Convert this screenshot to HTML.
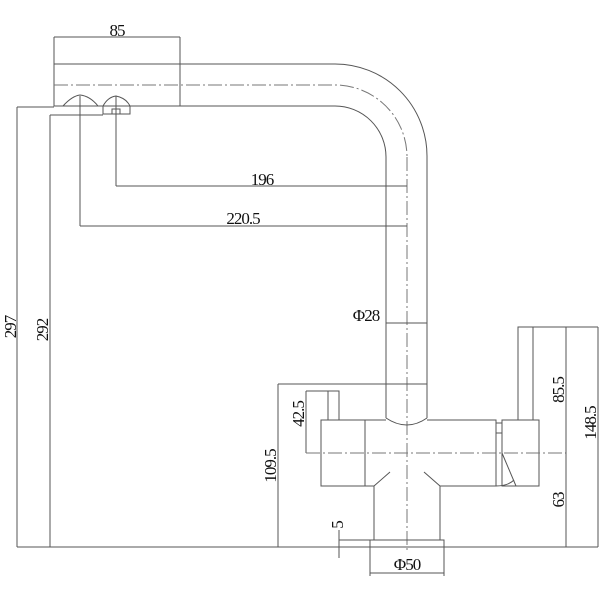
<!DOCTYPE html>
<html><head><meta charset="utf-8"><style>
html,body{margin:0;padding:0;background:#fff;width:600px;height:600px;overflow:hidden}
svg{display:block}
text{font-family:"Liberation Serif",serif;font-size:17px;letter-spacing:-1px;fill:#111}
</style></head><body>
<svg width="600" height="600" viewBox="0 0 600 600" xmlns="http://www.w3.org/2000/svg">
<g fill="none" stroke="#555" stroke-width="1">
<rect x="54" y="64" width="126" height="42"/>
<path d="M180 64 H335 A92 92 0 0 1 427 156 V418"/>
<path d="M180 106 H335 A51 51 0 0 1 386 157 V418"/>
<path d="M54 85 H335 A72 72 0 0 1 407 157" stroke-dasharray="14,3,2,3" stroke="#777"/>
<line x1="407" y1="157" x2="407" y2="550" stroke-dasharray="14,3,2,3" stroke="#777"/>
<path d="M63 106 Q72 96 80 95 Q90 96 98 106"/>
<path d="M103 114 V106 Q108 97 116 96 Q126 98 130 106 V114 Z"/>
<rect x="112" y="109" width="8" height="5"/>
<line x1="54" y1="37" x2="180" y2="37"/><line x1="54" y1="37" x2="54" y2="64"/><line x1="180" y1="37" x2="180" y2="64"/>
<line x1="17" y1="107" x2="54" y2="107"/><line x1="17" y1="107" x2="17" y2="547"/>
<line x1="50" y1="115" x2="103" y2="115"/><line x1="50" y1="115" x2="50" y2="547"/>
<line x1="17" y1="547" x2="598" y2="547"/>
<line x1="116" y1="96" x2="116" y2="186"/><line x1="116" y1="186" x2="407" y2="186"/>
<line x1="80" y1="96" x2="80" y2="226"/><line x1="80" y1="226" x2="407" y2="226"/>
<line x1="386" y1="323" x2="427" y2="323"/>
<path d="M386 418 Q407 432 427 418"/>
<line x1="278" y1="384" x2="427" y2="384"/>
<line x1="278" y1="384" x2="278" y2="547"/>
<line x1="306" y1="391" x2="339" y2="391"/><line x1="306" y1="391" x2="306" y2="453"/>
<rect x="328" y="391" width="11" height="29"/>
<rect x="321" y="420" width="44" height="66"/>
<path d="M365 420 H386 M427 420 H496 V486 H440 M365 420 V486 H374"/>
<rect x="496" y="423" width="6" height="10"/>
<rect x="502" y="420" width="37" height="66"/>
<path d="M502 453 L516 486"/>
<path d="M496 486 Q508 486 514 480"/>
<line x1="306" y1="453" x2="566" y2="453" stroke-dasharray="14,3,2,3" stroke="#777"/>
<rect x="518" y="327" width="15" height="93"/>
<line x1="518" y1="327" x2="598" y2="327"/>
<line x1="566" y1="327" x2="566" y2="547"/><line x1="598" y1="327" x2="598" y2="547"/>
<path d="M374 486 L390 472 M440 486 L424 472"/>
<path d="M374 486 V540 M440 486 V540"/>
<rect x="370" y="540" width="74" height="7"/>
<line x1="370" y1="547" x2="370" y2="576"/><line x1="444" y1="547" x2="444" y2="576"/>
<line x1="370" y1="573" x2="444" y2="573"/>
<line x1="339" y1="540" x2="370" y2="540"/><line x1="339" y1="530" x2="339" y2="558"/>
</g>
<text x="117" y="36" text-anchor="middle">85</text>
<text x="262" y="185" text-anchor="middle">196</text>
<text x="243" y="224" text-anchor="middle">220.5</text>
<text x="366" y="321" text-anchor="middle">Φ28</text>
<text x="407" y="570" text-anchor="middle">Φ50</text>
<text transform="translate(16,327) rotate(-90)" text-anchor="middle">297</text>
<text transform="translate(48,330) rotate(-90)" text-anchor="middle">292</text>
<text transform="translate(276,466) rotate(-90)" text-anchor="middle">109.5</text>
<text transform="translate(304,414) rotate(-90)" text-anchor="middle">42.5</text>
<text transform="translate(564,390) rotate(-90)" text-anchor="middle">85.5</text>
<text transform="translate(596,423) rotate(-90)" text-anchor="middle">148.5</text>
<text transform="translate(564,500) rotate(-90)" text-anchor="middle">63</text>
<text transform="translate(343,525) rotate(-90)" text-anchor="middle">5</text>
</svg>
</body></html>
